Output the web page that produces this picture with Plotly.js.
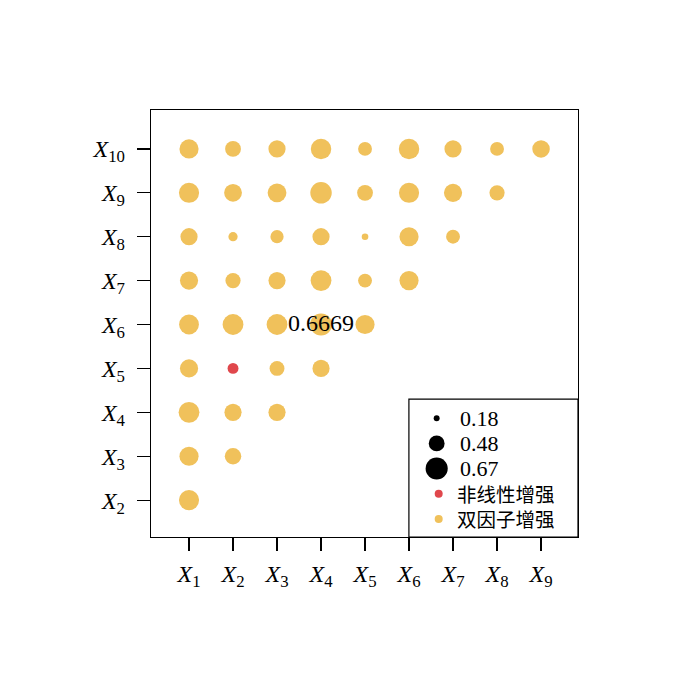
<!DOCTYPE html>
<html>
<head>
<meta charset="utf-8">
<script src="https://cdn.plot.ly/plotly-3.0.1.min.js"></script>
<style>html,body{margin:0;padding:0;background:#fff;}#chart{width:676px;height:676px;}</style>
</head>
<body>
<div id="chart"></div>
<script>
// Column factors (x) and row factors (y)
const xFactors = [1, 2, 3, 4, 5, 6, 7, 8, 9];
const yFactors = [2, 3, 4, 5, 6, 7, 8, 9, 10];
const xTickText = ["<i>X</i><sub>1</sub>","<i>X</i><sub>2</sub>","<i>X</i><sub>3</sub>","<i>X</i><sub>4</sub>","<i>X</i><sub>5</sub>","<i>X</i><sub>6</sub>","<i>X</i><sub>7</sub>","<i>X</i><sub>8</sub>","<i>X</i><sub>9</sub>"];
const yTickText = ["<i>X</i><sub>2</sub>","<i>X</i><sub>3</sub>","<i>X</i><sub>4</sub>","<i>X</i><sub>5</sub>","<i>X</i><sub>6</sub>","<i>X</i><sub>7</sub>","<i>X</i><sub>8</sub>","<i>X</i><sub>9</sub>","<i>X</i><sub>10</sub>"];

// Interaction q-values, one list per row factor (X1 .. X(row-1))
const rowX2  = [0.61];
const rowX3  = [0.58, 0.50];
const rowX4  = [0.63, 0.52, 0.52];
const rowX5  = [0.55, 0.33, 0.45, 0.52];
const rowX6  = [0.60, 0.63, 0.63, 0.6669, 0.58];
const rowX7  = [0.55, 0.46, 0.52, 0.63, 0.42, 0.58];
const rowX8  = [0.52, 0.28, 0.40, 0.52, 0.20, 0.58, 0.42];
const rowX9  = [0.61, 0.54, 0.57, 0.65, 0.48, 0.61, 0.55, 0.46];
const rowX10 = [0.58, 0.48, 0.52, 0.62, 0.42, 0.62, 0.52, 0.42, 0.53];
const rows = [rowX2, rowX3, rowX4, rowX5, rowX6, rowX7, rowX8, rowX9, rowX10];

// Pairs with nonlinear enhancement [xFactor, yFactor]; all others are bi-factor enhancement
const nonlinearPairs = [[2, 5]];
// Labelled maximum
const maxLabel = "0.6669";

// Legend
const legendSizes = [0.18, 0.48, 0.67];
const legendSizeLabels = ["0.18", "0.48", "0.67"];
const typeLabels = ["非线性增强", "双因子增强"];

const YELLOW = "#F0C15B";
const RED = "#E0474C";
const SIZE_SCALE = 33;

const bx = [], by = [], bs = [], bt = [];
const rx = [], ry = [], rs = [], rt = [];
rows.forEach((vals, ri) => {
  const yf = yFactors[ri];
  vals.forEach((v, ci) => {
    const xf = xFactors[ci];
    const isNL = nonlinearPairs.some(p => p[0] === xf && p[1] === yf);
    const label = (v.toString() === maxLabel) ? maxLabel : "";
    if (isNL) { rx.push(xf); ry.push(yf); rs.push(v * SIZE_SCALE); rt.push(label); }
    else { bx.push(xf); by.push(yf); bs.push(v * SIZE_SCALE); bt.push(label); }
  });
});

const FONT = "Liberation Serif, Times New Roman, serif";
const CJK = "Noto Sans CJK SC, serif";

const traces = [
  {x: bx, y: by, mode: "markers+text", text: bt, textposition: "middle center",
   textfont: {family: FONT, size: 24, color: "#000"},
   marker: {size: bs, color: YELLOW, opacity: 1, line: {width: 0}}, xaxis: "x", yaxis: "y",
   hoverinfo: "skip", showlegend: false, cliponaxis: false},
  {x: rx, y: ry, mode: "markers", text: rt,
   marker: {size: rs, color: RED, opacity: 1, line: {width: 0}}, xaxis: "x", yaxis: "y",
   hoverinfo: "skip", showlegend: false},
  // legend dots
  {x: [0,0,0,0.08,0.08], y: [0,1,2,3,4], mode: "markers",
   marker: {size: legendSizes.map(v => v * SIZE_SCALE).concat([8, 8]),
            color: ["#000","#000","#000", RED, YELLOW], opacity: 1, line: {width: 0}},
   xaxis: "x2", yaxis: "y2", hoverinfo: "skip", showlegend: false, cliponaxis: false}
];

const annotations = legendSizeLabels.map((t, i) => ({
  x: 0.85, y: i, xref: "x2", yref: "y2", text: t, showarrow: false,
  xanchor: "left", yanchor: "middle",
  font: {family: FONT, size: 22, color: "#000"}
}));
annotations.push({
  x: 0.72, y: legendSizeLabels.length + (typeLabels.length - 1) / 2, xref: "x2", yref: "y2",
  text: typeLabels.join("<br>"), showarrow: false, align: "left",
  xanchor: "left", yanchor: "middle",
  font: {family: CJK, size: 19.5, color: "#000"}
});

const layout = {
  width: 676, height: 676,
  margin: {l: 151, r: 98, t: 110, b: 139},
  paper_bgcolor: "#fff", plot_bgcolor: "#fff",
  showlegend: false,
  xaxis: {
    domain: [0, 1], range: [0.136, 9.84], tickmode: "array", tickvals: xFactors, ticktext: xTickText,
    showgrid: false, zeroline: false, showline: true, mirror: true, linecolor: "#000", linewidth: 1.2,
    ticks: "outside", ticklen: 13, tickwidth: 1.2, tickcolor: "#000", ticklabelstandoff: 2,
    tickfont: {family: FONT, size: 24, color: "#000"}, fixedrange: true
  },
  yaxis: {
    domain: [0, 1], range: [1.16, 10.886], tickmode: "array", tickvals: yFactors, ticktext: yTickText,
    showgrid: false, zeroline: false, showline: true, mirror: true, linecolor: "#000", linewidth: 1.2,
    ticks: "outside", ticklen: 13, tickwidth: 1.2, tickcolor: "#000", ticklabelstandoff: 7,
    tickfont: {family: FONT, size: 24, color: "#000"}, fixedrange: true
  },
  xaxis2: {domain: [0.604, 1], range: [-1.1, 5.6], visible: false, anchor: "y2", fixedrange: true},
  yaxis2: {domain: [0, 0.323], range: [4.72, -0.76], visible: false, anchor: "x2", fixedrange: true},
  shapes: [{type: "rect", xref: "paper", yref: "paper", x0: 0.604, x1: 1, y0: 0, y1: 0.323,
            line: {color: "#000", width: 1.2}, fillcolor: "rgba(0,0,0,0)", layer: "above"}],
  annotations: annotations
};

Plotly.newPlot("chart", traces, layout, {displayModeBar: false, staticPlot: true});
</script>
</body>
</html>
